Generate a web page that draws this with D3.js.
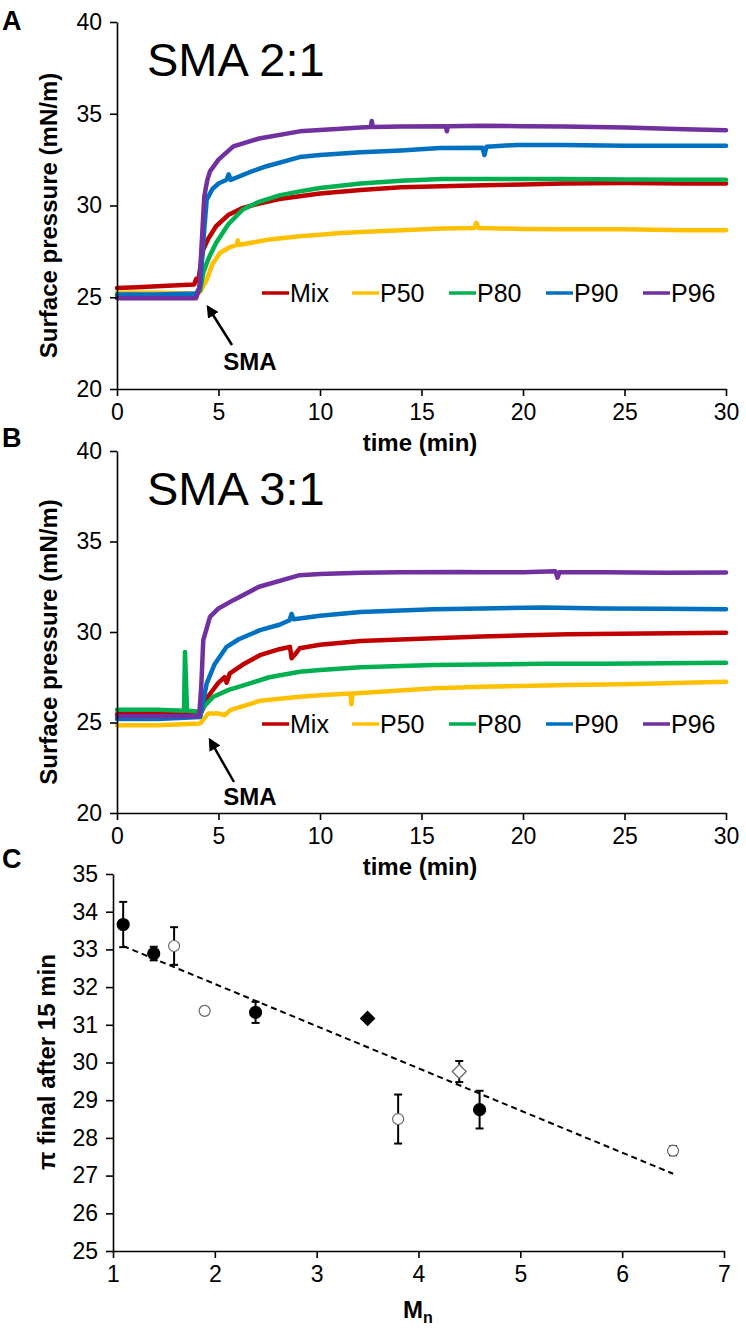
<!DOCTYPE html>
<html><head><meta charset="utf-8">
<script src="https://cdnjs.cloudflare.com/ajax/libs/d3/7.8.5/d3.min.js"></script>
<style>
body{margin:0;background:#fff;}
text{font-family:"Liberation Sans",Arial,sans-serif;}
</style></head>
<body><svg id="c" width="746" height="1335"></svg>
<script>
// ---------- DATA ----------
const seriesNames = ["Mix","P50","P80","P90","P96"];
const seriesColors = ["#C00000","#FFC000","#00B050","#0070C0","#7030A0"];
const timeTicks = [0,5,10,15,20,25,30];
const pressureTicks = [20,25,30,35,40];

// Panel A (SMA 2:1) [time, pressure]
const mixA = [[0,25.5],[1,25.55],[2,25.6],[3,25.65],[3.8,25.7],[3.9,26.0],[4.0,25.9],[4.1,26.6],[4.25,27.6],[4.5,28.2],[4.88,28.87],[5.5,29.5],[6.2,29.87],[7,30.1],[8,30.35],[9,30.5],[10,30.65],[12,30.85],[14,31.0],[16,31.05],[18,31.1],[20,31.15],[22,31.2],[25,31.22],[28,31.2],[30,31.2]];
const p50A = [[0,25.25],[2,25.25],[3.9,25.2],[4.1,25.3],[4.42,25.96],[4.7,26.8],[5.08,27.42],[5.5,27.7],[5.9,27.85],[5.95,28.1],[6.0,27.85],[6.55,27.96],[7.5,28.15],[9,28.32],[10,28.4],[11,28.5],[12,28.55],[14,28.65],[16,28.75],[17.6,28.78],[17.7,29.05],[17.8,28.78],[20,28.72],[22,28.7],[25,28.7],[28,28.65],[30,28.65]];
const p80A = [[0,25.1],[2,25.1],[3.9,25.1],[4.1,25.4],[4.25,26.33],[4.5,27.1],[4.88,27.96],[5.5,29.0],[6.2,29.78],[7,30.2],[8,30.55],[9,30.77],[10,30.95],[12,31.2],[14,31.35],[16,31.45],[18,31.45],[20,31.45],[22,31.45],[25,31.42],[28,31.4],[30,31.4]];
const p90A = [[0,25.15],[2,25.15],[3.9,25.2],[4.1,25.6],[4.25,28.0],[4.42,30.32],[4.7,30.9],[5.0,31.2],[5.4,31.4],[5.5,31.7],[5.6,31.4],[6.5,31.8],[7.37,32.14],[9,32.64],[10,32.75],[12,32.9],[14,33.0],[15.9,33.13],[18.0,33.15],[18.1,32.75],[18.2,33.2],[19.7,33.3],[22,33.3],[25,33.25],[28,33.25],[30,33.25]];
const p96A = [[0,24.95],[2,24.95],[3.9,24.95],[4.05,25.5],[4.15,27.5],[4.3,30.5],[4.45,31.4],[4.58,31.86],[5,32.5],[5.73,33.22],[7,33.65],[9,34.04],[10,34.12],[12,34.25],[12.5,34.28],[12.55,34.6],[12.6,34.28],[14,34.3],[16.2,34.32],[16.25,34.05],[16.3,34.32],[18,34.35],[20,34.32],[22,34.3],[25,34.25],[28,34.15],[30,34.1]];

// Panel B (SMA 3:1)
const mixB = [[0,25.45],[2,25.45],[4.1,25.45],[4.3,25.9],[4.42,26.34],[5,27.2],[5.3,27.5],[5.4,27.2],[5.56,27.72],[6.2,28.2],[7.04,28.72],[8,29.05],[8.52,29.18],[8.6,28.55],[8.8,28.8],[9,29.1],[10,29.3],[12,29.5],[15.6,29.65],[18,29.75],[22.2,29.87],[26,29.92],[30,29.96]];
const p50B = [[0,24.85],[2,24.85],[4.1,24.95],[4.5,25.5],[5.0,25.5],[5.3,25.4],[5.6,25.7],[6.5,26.0],[7.04,26.2],[9,26.42],[10,26.5],[11.5,26.6],[11.55,26.0],[11.6,26.6],[13,26.7],[15.6,26.89],[18,26.97],[22.2,27.07],[25,27.12],[28,27.2],[30,27.25]];
const p80B = [[0,25.7],[2,25.7],[3.3,25.65],[3.35,28.9],[3.45,25.65],[4.1,25.6],[4.3,25.9],[4.75,26.42],[5.5,26.8],[6.55,27.16],[7.5,27.5],[9,27.8],[10,27.9],[12,28.05],[15.6,28.17],[18,28.2],[21,28.25],[24,28.25],[27,28.28],[30,28.3]];
const p90B = [[0,25.2],[2,25.2],[4.1,25.3],[4.25,26.2],[4.42,27.16],[4.8,28.2],[5.4,29.18],[6,29.6],[7.04,30.1],[8,30.4],[8.5,30.65],[8.6,31.0],[8.7,30.7],[9,30.75],[10,30.9],[12,31.1],[15.6,31.26],[18,31.3],[21,31.35],[24,31.3],[27,31.28],[30,31.26]];
const p96B = [[0,25.35],[2,25.35],[4.0,25.35],[4.05,25.4],[4.15,27],[4.25,29.55],[4.58,30.84],[5,31.3],[5.73,31.76],[7,32.5],[9,33.14],[10,33.2],[12,33.27],[14,33.3],[16.9,33.32],[18,33.3],[20,33.3],[21.6,33.35],[21.7,33.0],[21.8,33.3],[24,33.3],[27,33.28],[30,33.29]];

// Panel C
const mnValues = [1.1,1.4,1.6,1.9,2.4,3.5,3.8,4.4,4.6,6.5];
const piValues = [33.66,32.89,33.09,31.37,31.33,31.17,28.50,29.76,28.75,27.66];
const piErrors = [0.6,0.18,0.5,0.08,0.28,0.05,0.65,0.28,0.5,0.12];
const markerShapes = ["circle","circle","circle","circle","circle","diamond","circle","diamond","circle","circle"];
const markerFilled = [true,true,false,false,true,true,false,false,true,false];
const trendX = [1.1,6.5];
const trendY = [33.09,27.05];
const mnTicks = [1,2,3,4,5,6,7];
const piTicks = [25,26,27,28,29,30,31,32,33,34,35];

// ---------- DRAW ----------
const svg = d3.select("#c");
const FONT = '"Liberation Sans",Arial,sans-serif';

function styleAxis(g){
  g.selectAll("path.domain").attr("stroke","#000").attr("stroke-width",1.6);
  g.selectAll(".tick line").attr("stroke","#000").attr("stroke-width",1.6);
  g.selectAll(".tick text").attr("font-size",23).attr("font-family",FONT).attr("fill","#000");
}

function timePanel(cfg){
  const x = d3.scaleLinear().domain([0,30]).range([117,726]);
  const y = d3.scaleLinear().domain([20,40]).range([cfg.bottom,cfg.top]);
  const g = svg.append("g");
  const line = d3.line().x(d=>x(d[0])).y(d=>y(d[1]));
  cfg.data.forEach((s,i)=>{
    g.append("path").datum(s).attr("d",line).attr("fill","none")
     .attr("stroke",seriesColors[i]).attr("stroke-width",4.5).attr("stroke-linejoin","round").attr("stroke-linecap","round");
  });
  const ax = g.append("g").attr("transform",`translate(0,${cfg.bottom})`)
    .call(d3.axisBottom(x).tickValues(timeTicks).tickSize(7).tickPadding(8).tickSizeOuter(0).tickFormat(d3.format("d")));
  styleAxis(ax);
  const ay = g.append("g").attr("transform",`translate(117,0)`)
    .call(d3.axisLeft(y).tickValues(pressureTicks).tickSize(7).tickPadding(8).tickSizeOuter(0).tickFormat(d3.format("d")));
  styleAxis(ay);
  g.append("text").attr("x",420).attr("y",cfg.bottom+62).attr("text-anchor","middle")
   .attr("font-size",24).attr("font-weight","bold").text("time (min)");
  g.append("text").attr("transform",`translate(57,${(cfg.top+cfg.bottom)/2+10}) rotate(-90)`)
   .attr("text-anchor","middle").attr("font-size",24).attr("font-weight","bold").text("Surface pressure (mN/m)");
  g.append("text").attr("x",2).attr("y",cfg.top+(cfg.letterDy||0)).attr("font-size",27).attr("font-weight","bold").text(cfg.letter);
  g.append("text").attr("x",147).attr("y",cfg.top+54).attr("font-size",47).text(cfg.title);
  const lx = [262,352,449,546,643];
  seriesNames.forEach((n,i)=>{
    g.append("line").attr("x1",lx[i]).attr("x2",lx[i]+27).attr("y1",cfg.legendY).attr("y2",cfg.legendY)
     .attr("stroke",seriesColors[i]).attr("stroke-width",3.5);
    g.append("text").attr("x",lx[i]+28).attr("y",cfg.legendY+9).attr("font-size",25).text(n);
  });
  g.append("text").attr("x",250).attr("y",cfg.smaY).attr("text-anchor","middle")
   .attr("font-size",24).attr("font-weight","bold").text("SMA");
  g.append("line").attr("x1",cfg.arrow[0]).attr("y1",cfg.arrow[1]).attr("x2",cfg.arrow[2]).attr("y2",cfg.arrow[3])
   .attr("stroke","#000").attr("stroke-width",2.5).attr("marker-end","url(#ah)");
}

svg.append("defs").append("marker").attr("id","ah").attr("viewBox","0 0 10 10").attr("refX",8).attr("refY",5)
  .attr("markerWidth",5).attr("markerHeight",5).attr("orient","auto")
  .append("path").attr("d","M0,0 L10,5 L0,10 z").attr("fill","#000");

timePanel({top:22,bottom:389,data:[mixA,p50A,p80A,p90A,p96A],letter:"A",letterDy:8,title:"SMA 2:1",legendY:293,smaY:370,arrow:[232,345,208,307]});
timePanel({top:451,bottom:813,data:[mixB,p50B,p80B,p90B,p96B],letter:"B",letterDy:-4,title:"SMA 3:1",legendY:724,smaY:805,arrow:[234,782,210,740]});

// Panel C
(function(){
  const x = d3.scaleLinear().domain([1,7]).range([113,724]);
  const y = d3.scaleLinear().domain([25,35]).range([1251,874]);
  const g = svg.append("g");
  const ax = g.append("g").attr("transform","translate(0,1251)")
    .call(d3.axisBottom(x).tickValues(mnTicks).tickSize(7).tickPadding(8).tickSizeOuter(0).tickFormat(d3.format("d")));
  styleAxis(ax);
  const ay = g.append("g").attr("transform","translate(113,0)")
    .call(d3.axisLeft(y).tickValues(piTicks).tickSize(7).tickPadding(8).tickSizeOuter(0).tickFormat(d3.format("d")));
  styleAxis(ay);
  g.append("line").attr("x1",x(trendX[0])).attr("y1",y(trendY[0])).attr("x2",x(trendX[1])).attr("y2",y(trendY[1]))
   .attr("stroke","#000").attr("stroke-width",2).attr("stroke-dasharray","6,4");
  mnValues.forEach((m,i)=>{
    const cx = x(m), t = y(piValues[i]+piErrors[i]), b = y(piValues[i]-piErrors[i]);
    g.append("line").attr("x1",cx).attr("x2",cx).attr("y1",t).attr("y2",b).attr("stroke","#000").attr("stroke-width",2);
    [t,b].forEach(yy=>g.append("line").attr("x1",cx-4).attr("x2",cx+4).attr("y1",yy).attr("y2",yy).attr("stroke","#000").attr("stroke-width",2));
  });
  mnValues.forEach((m,i)=>{
    const cx = x(m), cy = y(piValues[i]);
    const fill = markerFilled[i] ? "#000" : "#fff";
    const stroke = markerFilled[i] ? "#000" : "#666";
    if(markerShapes[i]==="circle"){
      g.append("circle").attr("cx",cx).attr("cy",cy).attr("r",markerFilled[i]?6:5.5)
       .attr("fill",fill).attr("stroke",stroke).attr("stroke-width",1.2);
    } else {
      const r = 7;
      g.append("path").attr("d",`M${cx},${cy-r} L${cx+r},${cy} L${cx},${cy+r} L${cx-r},${cy} Z`)
       .attr("fill",fill).attr("stroke",stroke).attr("stroke-width",1.2);
    }
  });
  g.append("text").attr("x",2).attr("y",868).attr("font-size",27).attr("font-weight","bold").text("C");
  g.append("text").attr("transform",`translate(55,1062) rotate(-90)`).attr("text-anchor","middle")
   .attr("font-size",24).attr("font-weight","bold").text("π final after 15 min");
  const mt = g.append("text").attr("x",418).attr("y",1318).attr("text-anchor","middle").attr("font-size",24).attr("font-weight","bold");
  mt.append("tspan").text("M");
  mt.append("tspan").attr("font-size",16).attr("dy",5).text("n");
})();
</script></body></html>
